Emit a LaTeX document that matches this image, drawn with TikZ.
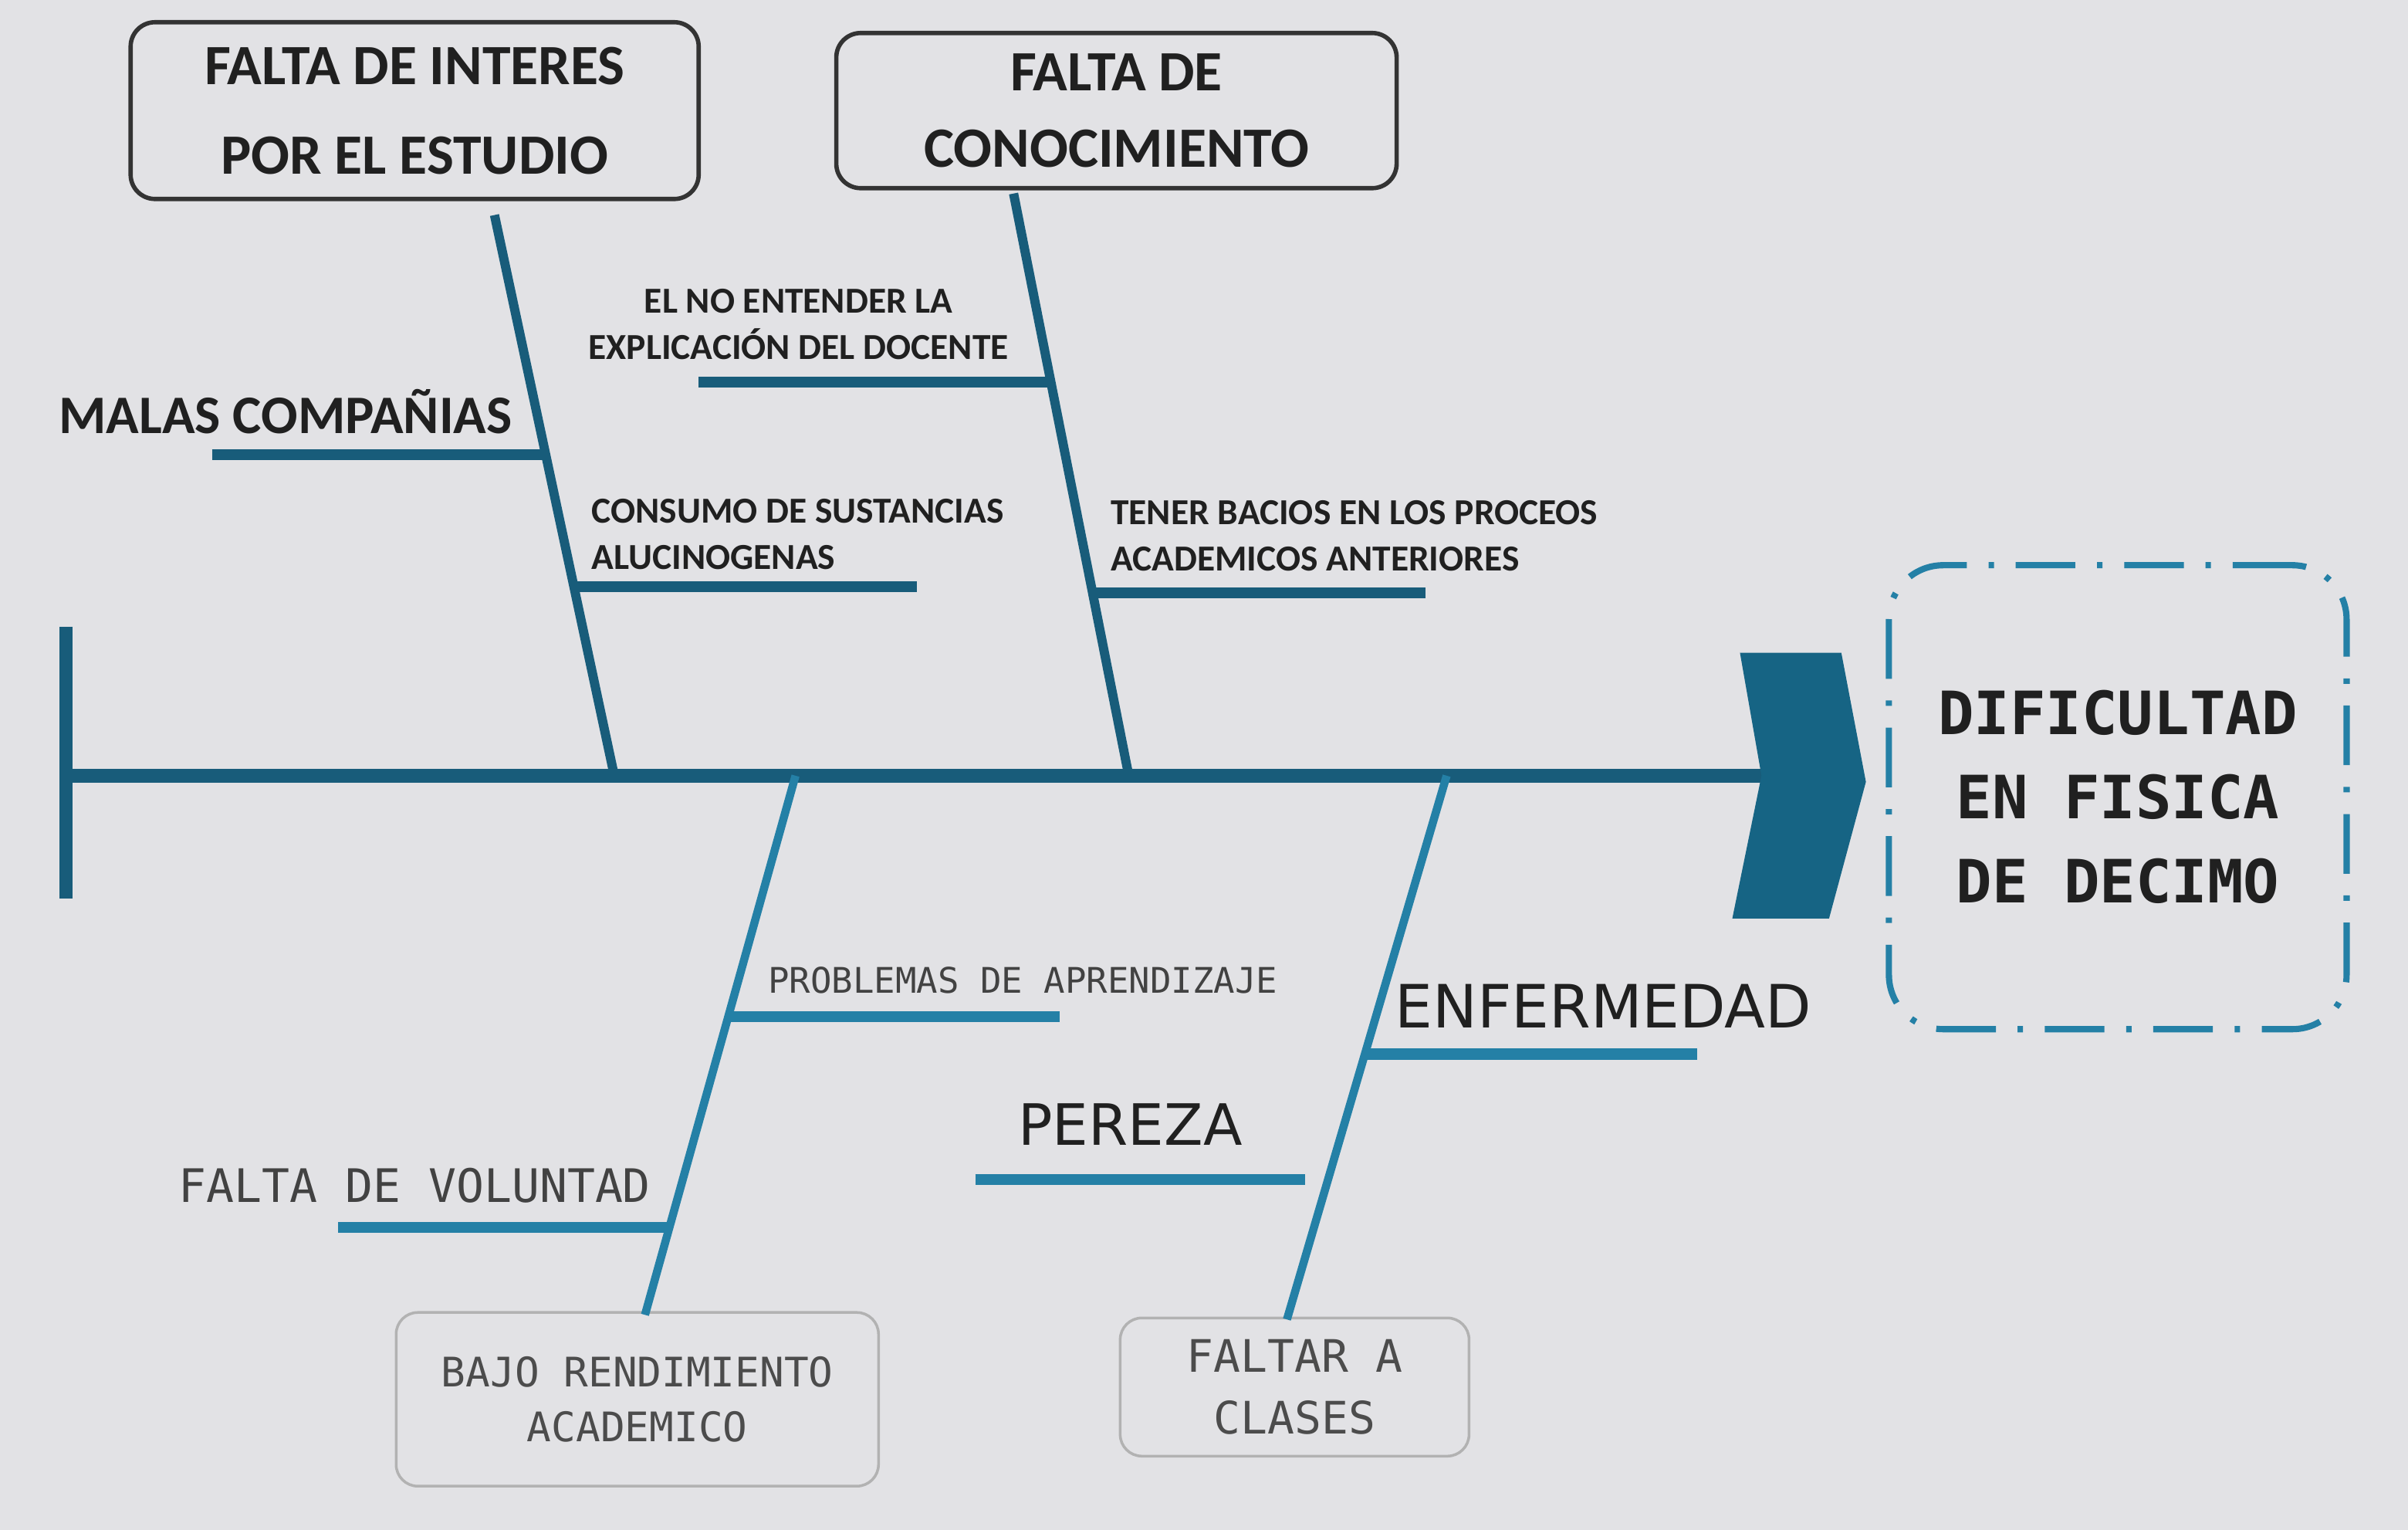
\documentclass[tikz,border=0pt]{standalone}
\usepackage{fontspec}
\usepackage{tikz}
\usetikzlibrary{calc}

\newfontfamily\causefont{Carlito}
\newfontfamily\comicfont{DejaVu Sans Mono}
\newfontfamily\plainfont{DejaVu Sans}

\definecolor{bonedark}{RGB}{24,92,122}
\definecolor{bonelight}{RGB}{36,128,166}
\definecolor{headfill}{RGB}{22,100,132}
\definecolor{screen}{RGB}{226,226,229}
\definecolor{ink}{RGB}{32,32,32}

\tikzset{
  spine/.style={line width=5pt, color=bonedark},
  bone/.style={line width=3.4pt, color=bonedark},
  lowbone/.style={line width=3pt, color=bonelight},
  rib/.style={line width=4pt, color=bonedark},
  lowrib/.style={line width=4pt, color=bonelight},
  headbox/.style={draw=black!80, line width=1.6pt, rounded corners=9pt, inner sep=0pt,
    align=center, text=ink, font=\causefont\bfseries\fontsize{21}{33}\selectfont},
  footbox/.style={draw=black!30, line width=1pt, rounded corners=8pt, inner sep=0pt,
    align=center, text=black!70, font=\comicfont},
  effectbox/.style={draw=bonelight, line width=2.3pt, rounded corners=20pt,
    dash pattern=on 22pt off 8pt on 2pt off 8pt, inner sep=0pt, align=center,
    text=ink, font=\comicfont\bfseries\fontsize{22}{31}\selectfont},
  riblabel/.style={text=ink, inner sep=0pt, font=\causefont\bfseries\fontsize{13.5}{17}\selectfont},
  comiclabel/.style={text=ink!85, inner sep=0pt, font=\comicfont},
  plainlabel/.style={text=ink, inner sep=0pt, font=\plainfont},
}

\begin{document}
\begin{tikzpicture}[x=0.0199cm, y=-0.0199cm]
  \fill[screen] (0,0) rectangle (1568,996);
  \useasboundingbox (0,0) rectangle (1568,996);

  % main boxes
  \node[headbox, minimum width=7.36cm, minimum height=2.29cm] (interes) at (270,72) {FALTA DE INTERES\\POR EL ESTUDIO};
  \node[headbox, minimum width=7.26cm, minimum height=2.01cm, font=\causefont\bfseries\fontsize{21}{28}\selectfont] (conocimiento) at (727,72) {FALTA DE\\CONOCIMIENTO};
  \node[footbox, minimum width=6.25cm, minimum height=2.25cm, font=\comicfont\fontsize{15}{20}\selectfont] (rendimiento) at (415,911) {BAJO RENDIMIENTO\\ACADEMICO};
  \node[footbox, minimum width=4.52cm, minimum height=1.79cm, font=\comicfont\fontsize{16.5}{22.5}\selectfont] (faltar) at (843,903) {FALTAR A\\CLASES};
  \node[effectbox, minimum width=5.93cm, minimum height=6.01cm] (efecto) at (1379,519) {DIFICULTAD\\EN FISICA\\DE DECIMO};

  % spine and head
  \coordinate (tailtop) at (43,408);
  \coordinate (tailbot) at (43,585);
  \coordinate (tail) at (43,505);
  \coordinate (head) at (1150,505);
  \draw[spine] (tailtop) -- (tailbot);
  \draw[spine] (tail) -- (head);
  \fill[headfill] (1133,425) -- (1199,425) -- (1215,509) -- (1191,598) -- (1128,598) -- (1147,505) -- cycle;

  % bones
  \coordinate (b1top) at (322,140);
  \coordinate (b1) at (400,505);
  \coordinate (b2top) at (660,126);
  \coordinate (b2) at (735,505);
  \coordinate (b3) at (518,505);
  \coordinate (b3bot) at (420,856);
  \coordinate (b4) at (942,505);
  \coordinate (b4bot) at (838,859);
  \draw[bone] (b1top) -- (b1);
  \draw[bone] (b2top) -- (b2);
  \draw[lowbone] (b3) -- (b3bot);
  \draw[lowbone] (b4) -- (b4bot);

  % ribs, upper side
  \coordinate (malasend) at (138,296);
  \coordinate (consumoend) at (597,381);
  \coordinate (entenderend) at (455,249);
  \coordinate (baciosend) at (928,384);
  \coordinate (r1) at ($(b1top)!.429!(b1)$);
  \coordinate (r2) at ($(b1top)!.663!(b1)$);
  \coordinate (r3) at ($(b2top)!.325!(b2)$);
  \coordinate (r4) at ($(b2top)!.686!(b2)$);
  \draw[rib] (malasend) -- (malasend -| r1);
  \draw[rib] (r2) -- (r2 -| consumoend);
  \draw[rib] (entenderend) -- (entenderend -| r3);
  \draw[rib] (r4) -- (r4 -| baciosend);

  % ribs, lower side
  \coordinate (problemasend) at (690,662);
  \coordinate (voluntadend) at (220,799);
  \coordinate (enfermedadend) at (1105,686);
  \coordinate (perezastart) at (635,768);
  \coordinate (perezaend) at (850,768);
  \coordinate (r5) at ($(b3)!.447!(b3bot)$);
  \coordinate (r6) at ($(b3)!.838!(b3bot)$);
  \coordinate (r7) at ($(b4)!.512!(b4bot)$);
  \draw[lowrib] (r5) -- (r5 -| problemasend);
  \draw[lowrib] (voluntadend) -- (voluntadend -| r6);
  \draw[lowrib] (r7) -- (r7 -| enfermedadend);
  \draw[lowrib] (perezastart) -- (perezaend);

  % labels
  \node[riblabel, font=\causefont\bfseries\fontsize{20}{24}\selectfont] (malas) at (186,268) {MALAS COMPAÑIAS};
  \node[riblabel, align=center] (entender) at (520,211) {EL NO ENTENDER LA\\EXPLICACIÓN DEL DOCENTE};
  \node[riblabel, align=left, anchor=west] (consumo) at (385,348) {CONSUMO DE SUSTANCIAS\\ALUCINOGENAS};
  \node[riblabel, align=left, anchor=west] (bacios) at (723,349) {TENER BACIOS EN LOS PROCEOS\\ACADEMICOS ANTERIORES};
  \node[comiclabel, font=\comicfont\fontsize{13}{16}\selectfont] (problemas) at (666,638) {PROBLEMAS DE APRENDIZAJE};
  \node[comiclabel, font=\comicfont\fontsize{17}{20}\selectfont] (voluntad) at (270,772) {FALTA DE VOLUNTAD};
  \node[plainlabel, font=\plainfont\fontsize{22}{26}\selectfont] (enfermedad) at (1044,655) {ENFERMEDAD};
  \node[plainlabel, font=\plainfont\fontsize{21}{25}\selectfont] (pereza) at (736,732) {PEREZA};
\end{tikzpicture}
\end{document}
